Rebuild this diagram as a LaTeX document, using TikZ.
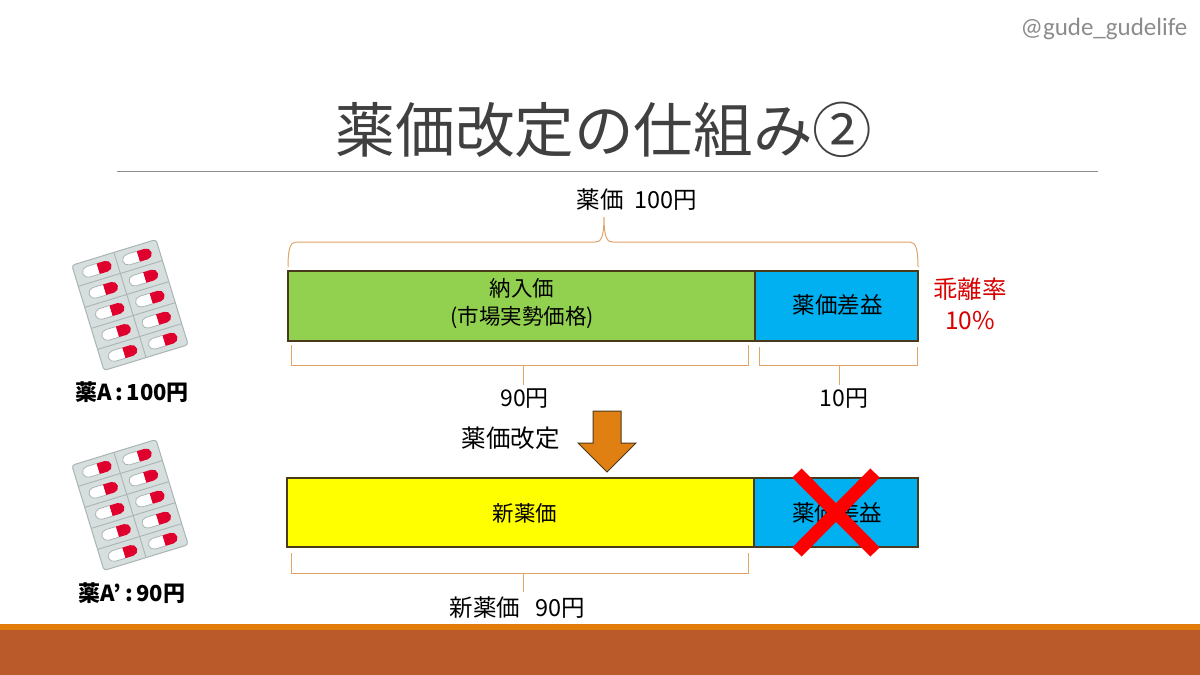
\documentclass[tikz,border=0pt]{standalone}
\usepackage{fontspec}
\setmainfont{Carlito}
\newfontfamily\jp{Noto Sans CJK JP}
\definecolor{barline}{HTML}{4A3A1C}
\definecolor{brace}{HTML}{E0A468}
\definecolor{bargreen}{HTML}{92D050}
\definecolor{barblue}{HTML}{00B0F0}
\definecolor{baryellow}{HTML}{FFFF00}
\definecolor{arrowor}{HTML}{E07F12}
\definecolor{bandor}{HTML}{E07B0C}
\definecolor{bandbr}{HTML}{BA5A2B}
\definecolor{sheet}{HTML}{D6DEDE}
\definecolor{sheetl}{HTML}{A9B5B5}
\definecolor{pillred}{HTML}{E0002D}
\tikzset{
 bar/.style={draw=barline,line width=1.5pt,minimum height=70pt,inner sep=0pt,anchor=west},
 lab/.style={text=black,inner sep=0pt,align=center},
 brk/.style={draw=brace,line width=1pt},
 medname/.style={font=\jp\bfseries\fontsize{22}{26}\selectfont,text=black,inner sep=0pt}
}
\newcommand{\onepill}[2]{%
 \begin{scope}[shift={(#1,#2)}]
  \fill[pillred] (1,-5.5) -- (9.5,-5.5) arc[start angle=-90,end angle=90,radius=5.5] -- (1,5.5) -- cycle;
  \filldraw[fill=white,draw=sheetl,line width=.8pt] (1,-5.5) -- (-9.5,-5.5) arc[start angle=-90,end angle=-270,radius=5.5] -- (1,5.5);
 \end{scope}}
\newcommand{\blister}[2]{%
 \begin{scope}[shift={(#1,#2)},rotate=17]
  \filldraw[fill=sheet,draw=sheetl,line width=1pt,rounded corners=3pt] (-44,-55) rectangle (44,55);
  \draw[sheetl,line width=.9pt] (0,-55) -- (0,55);
  \foreach \v in {-33,-11,11,33}{\draw[sheetl,line width=.9pt] (-44,\v) -- (44,\v);}
  \foreach \v in {-44,-22,0,22,44}{\onepill{-21}{\v}\onepill{21}{\v}}
 \end{scope}}
\begin{document}
\begin{tikzpicture}[x=1pt,y=-1pt]
\useasboundingbox (0,0) rectangle (1200,675);
\fill[white] (0,0) rectangle (1200,675);
\fill[bandor] (0,624) rectangle (1200,630);
\fill[bandbr] (0,630) rectangle (1200,675);
\draw[black!45,line width=1pt] (117,171) -- (1098,171);
\node[inner sep=0pt,font=\fontsize{25}{30}\selectfont,text=black!45] (handle) at (1104,29) {@gude\_gudelife};
\node[inner sep=0pt,font=\jp\fontsize{59.6}{70}\selectfont,text=black!75] (title) at (604,130) {薬価改定の仕組み②};
% top bar
\node[bar,fill=bargreen,minimum width=467pt] (nonyu) at (287.2,306) {};
\node[bar,fill=barblue,minimum width=163pt] (saeki) at (754.2,306) {};
\node[lab,font=\jp\fontsize{21.5}{28}\selectfont] (nonyut) at (522,304) {納入価\\(市場実勢価格)};
\node[lab,font=\jp\fontsize{22.5}{24}\selectfont] (saekit) at (837.5,305) {薬価差益};
% lower bar
\node[bar,fill=baryellow,minimum width=467pt,minimum height=69pt] (shin) at (286.2,512.5) {};
\node[bar,fill=barblue,minimum width=164pt,minimum height=69pt] (saeki2) at (753.2,512.5) {};
\node[lab,font=\jp\fontsize{21.5}{24}\selectfont] (shint) at (525,513) {新薬価};
\node[lab,font=\jp\fontsize{22.5}{24}\selectfont] (saeki2t) at (837,513) {薬価差益};
\draw[red,line width=13pt] (797,473) -- (875,552);
\draw[red,line width=13pt] (875,473) -- (797,552);
% top brace
\coordinate (bl) at (288,267); \coordinate (br) at (918,267); \coordinate (btip) at (604,217);
\draw[brk] (bl) .. controls (288,250) and (290,242) .. (296,242) -- (595,242) .. controls (600,242) and (604,240) .. (btip) .. controls (604,240) and (608,242) .. (613,242) -- (910,242) .. controls (916,242) and (918,250) .. (br);
\node[lab,font=\jp\fontsize{23.5}{26}\selectfont] (yakka) at (637,200) {薬価\ \ 100円};
% brackets
\coordinate (b1t) at (523,385);
\draw[brk] (291,345) -- (291,365) -- (748,365) -- (748,345);
\draw[brk] (523,365) -- (b1t);
\node[lab,font=\jp\fontsize{23}{25}\selectfont] (y90) at (524.5,399) {90円};
\coordinate (b2t) at (839,385);
\draw[brk] (759,347) -- (759,365) -- (917,365) -- (917,347);
\draw[brk] (839,365) -- (b2t);
\node[lab,font=\jp\fontsize{23}{25}\selectfont] (y10) at (844,399) {10円};
\coordinate (b3t) at (523,592);
\draw[brk] (291,553) -- (291,573) -- (748,573) -- (748,553);
\draw[brk] (523,573) -- (b3t);
\node[lab,font=\jp\fontsize{23.5}{25}\selectfont] (y3) at (517.5,608) {新薬価\ \ \ 90円};
% revision arrow
\node[lab,font=\jp\fontsize{24.5}{26}\selectfont] (kaitei) at (510.5,438) {薬価改定};
\filldraw[fill=arrowor,draw=barline,line width=1pt] (593,411) -- (621,411) -- (621,443) -- (636,443) -- (607,472) -- (578,443) -- (593,443) -- cycle;
% red label
\node[lab,font=\jp\fontsize{24.5}{31}\selectfont,text=red!85!black] (kairi) at (970,304) {乖離率\\10\%};
% pills
\blister{130}{305}
\blister{130}{505}
\node[medname] (a) at (132,392) {薬A\,:\,100円};
\node[medname] (a2) at (132,593) {薬A’\,:\,90円};
\end{tikzpicture}
\end{document}
